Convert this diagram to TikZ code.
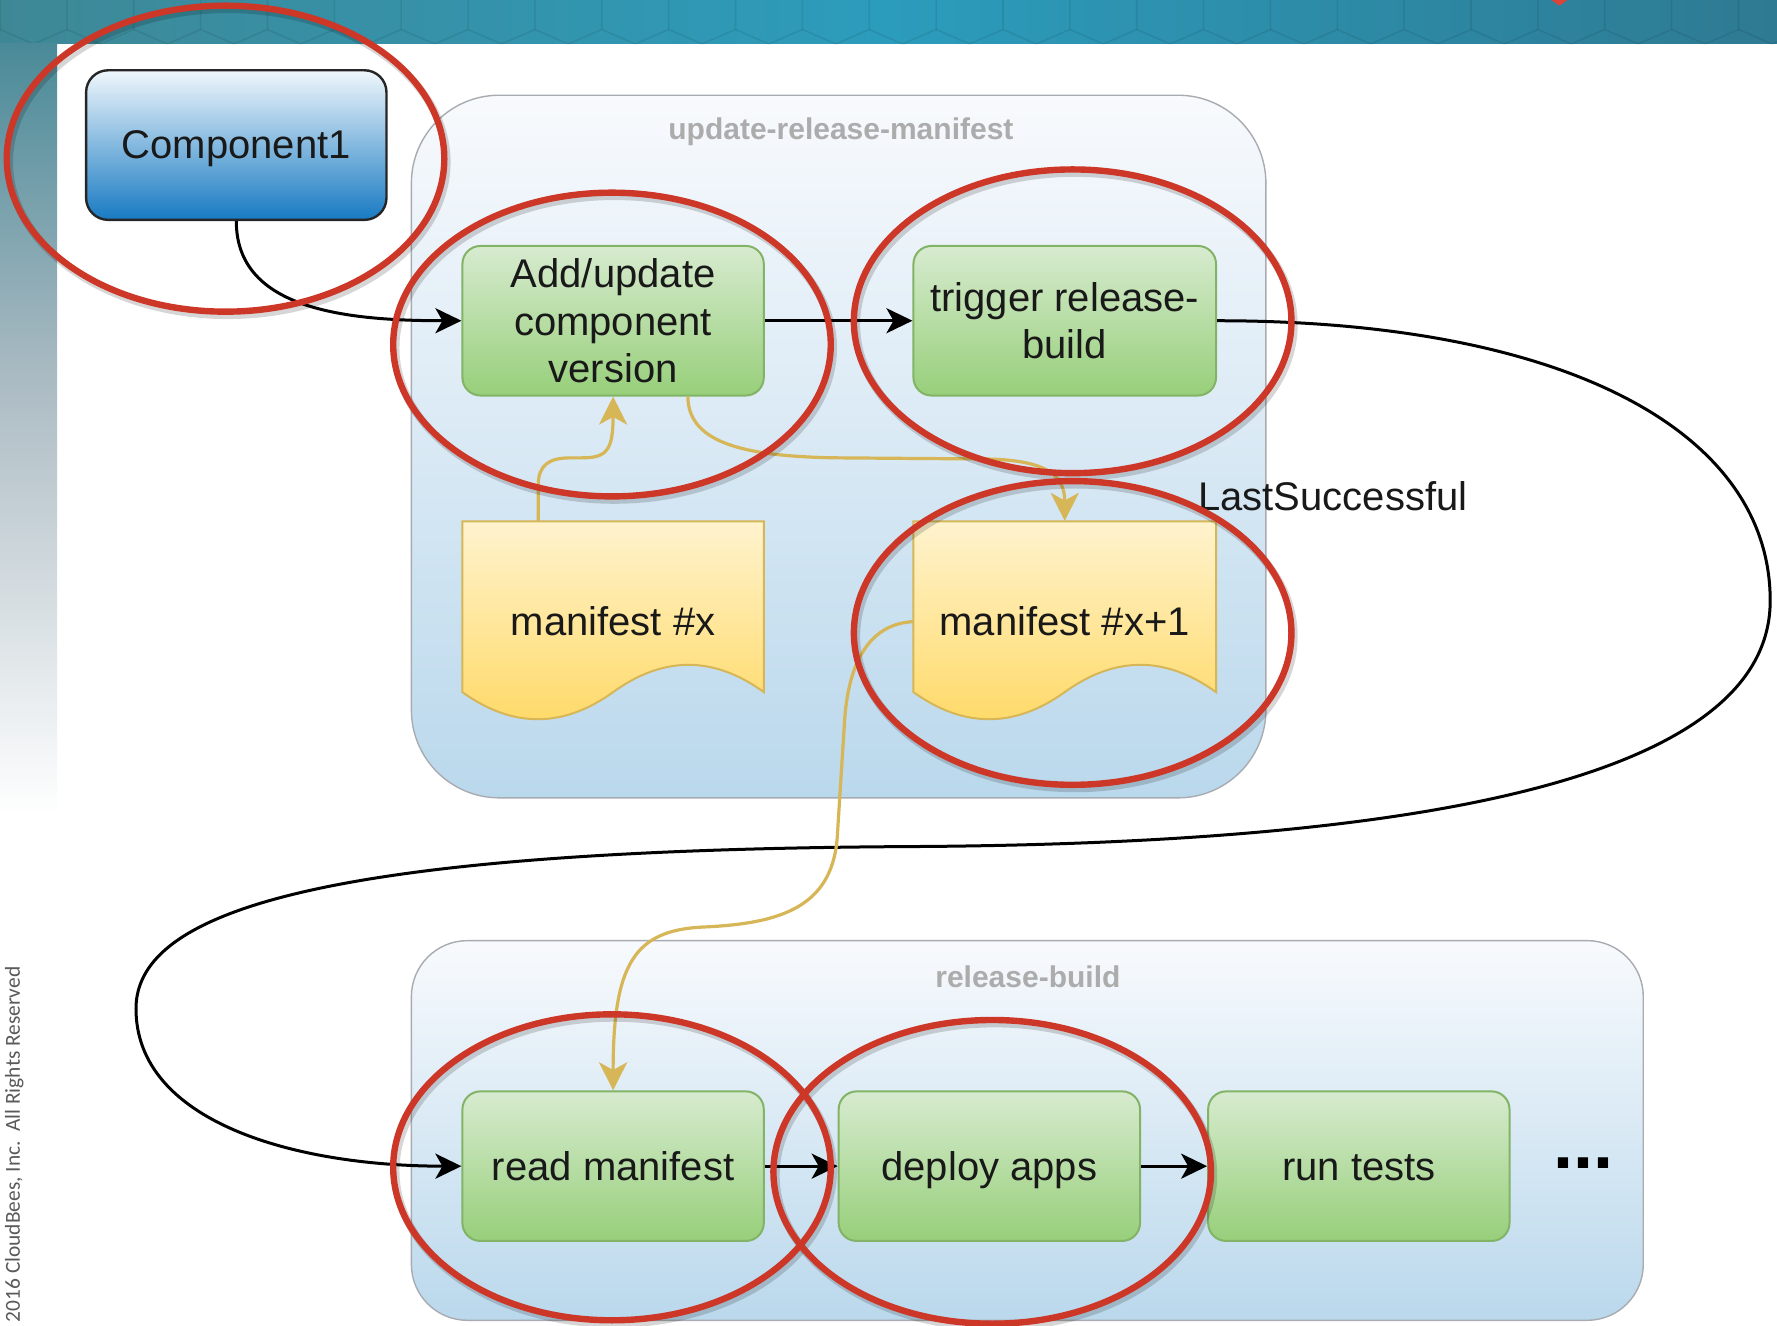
\documentclass[tikz,border=0pt]{standalone}
\usepackage{fontspec}
\setmainfont{Liberation Sans}
\newfontfamily\cbfont{Carlito}
\usetikzlibrary{arrows.meta,calc}
\definecolor{grntop}{RGB}{215,235,207}
\definecolor{grnbot}{RGB}{151,207,122}
\definecolor{grnline}{RGB}{130,179,102}
\definecolor{yeltop}{RGB}{255,243,206}
\definecolor{yelbot}{RGB}{255,217,102}
\definecolor{yelline}{RGB}{214,182,86}
\definecolor{bluetop}{RGB}{240,247,252}
\definecolor{bluebot}{RGB}{24,122,194}
\definecolor{cnttop}{RGB}{248,250,253}
\definecolor{cntbot}{RGB}{186,216,236}
\definecolor{cntline}{RGB}{168,172,178}
\definecolor{ringred}{RGB}{204,55,40}
\definecolor{titlegray}{RGB}{172,172,172}
\definecolor{banL}{RGB}{62,136,150}
\definecolor{banM}{RGB}{44,156,188}
\definecolor{banR}{RGB}{46,122,146}
\definecolor{stripA}{RGB}{74,138,152}
\definecolor{stripB}{RGB}{170,186,194}
\definecolor{copygray}{RGB}{90,90,90}
\definecolor{marker}{RGB}{220,68,58}
\tikzset{
  procbox/.style={draw=grnline, line width=1pt, rounded corners=9pt,
    top color=grntop, bottom color=grnbot, minimum width=150.7pt,
    minimum height=74.8pt, inner sep=0pt, align=center, text=black!90,
    font=\fontsize{20}{23.8}\selectfont},
  oneline/.style={text height=18.1pt, text depth=4.24pt},
  compbox/.style={draw=black!85, line width=1.2pt, rounded corners=11pt,
    top color=bluetop, bottom color=bluebot, minimum width=150.2pt,
    minimum height=74.8pt, inner sep=0pt, align=center, text=black!90,
    font=\fontsize{20}{23.8}\selectfont},
  docbox/.style={draw=yelline, line width=1pt, top color=yeltop, bottom color=yelbot},
  doclabel/.style={minimum width=150.7pt, minimum height=100.3pt, inner sep=0pt,
    text=black!90, font=\fontsize{20}{23.8}\selectfont},
  container/.style={draw=cntline, line width=0.7pt, top color=cnttop, bottom color=cntbot},
  ctitle/.style={text=titlegray, inner sep=0pt, font=\fontsize{15}{18}\selectfont\bfseries},
  flow/.style={draw=black, line width=1.5pt,
    -{Stealth[length=13pt,width=12.5pt,inset=3.5pt]}},
  data/.style={draw=yelline, line width=1.6pt,
    -{Stealth[length=14pt,width=14pt,inset=3.8pt]}},
  ring/.style={draw=ringred, line width=3.2pt},
  ringshadow/.style={draw=black, opacity=0.16, line width=4pt},
}
\begin{document}
\begin{tikzpicture}[x=0.5667pt,y=-0.5667pt]
\useasboundingbox (0,0) rectangle (1568,1170);
\fill[white] (0,0) rectangle (1568,1170);
% banner
\shade[left color=banL, right color=banR, middle color=banM] (0,0) rectangle (1568,38.8);
\foreach \k in {0,...,27}{
  \draw[black, opacity=0.08, line width=0.8pt] (\k*59,0) -- (\k*59,26) -- (\k*59-29.5,38.8);
  \draw[black, opacity=0.08, line width=0.8pt] (\k*59,26) -- (\k*59+29.5,38.8);
}
\fill[marker] (1369,0) -- (1383,0) -- (1376,5) -- cycle;
% left strip
\shade[top color=stripA, bottom color=stripB] (0,38.8) rectangle (50.3,330);
\shade[top color=stripB, bottom color=white] (0,329.5) rectangle (50.3,720);
% copyright
\node[rotate=90, anchor=west, inner sep=0pt, text=copygray,
  font=\cbfont\fontsize{10.7}{12}\selectfont] (copy) at (12.5,1167)
  {2016 CloudBees, Inc.\ \ All Rights Reserved};
% containers
\draw[container, rounded corners=44pt] (363,84) rectangle (1117,704);
\node[ctitle] (t1) at (742,116) {update-release-manifest};
\draw[container, rounded corners=28pt] (363,830) rectangle (1450,1165);
\node[ctitle] (t2) at (907,862) {release-build};
% nodes
\node[compbox, oneline] (comp) at (208.5,128) {Component1};
\node[procbox] (add) at (541,283) {Add/update\\component\\version};
\node[procbox, minimum width=151.3pt] (trig) at (939.5,283) {trigger release-\\build};
\draw[docbox, shift={(408,460)}] (0,0) -- (266,0) -- (266,150.7)
  .. controls (221.7,118.6) and (177.3,118.6) .. (133,150.7)
  .. controls (88.7,182.6) and (44.3,182.6) .. (0,150.7) -- cycle;
\node[doclabel] (mx) at (541,548.5) {manifest \#x};
\draw[docbox, shift={(806,460)}] (0,0) -- (267,0) -- (267,150.7)
  .. controls (222.5,118.6) and (178,118.6) .. (133.5,150.7)
  .. controls (89,182.6) and (44.5,182.6) .. (0,150.7) -- cycle;
\node[doclabel] (mx1) at (939.5,548.5) {manifest \#x+1};
\node[procbox, oneline] (read) at (541,1029) {read manifest};
\node[procbox, oneline] (deploy) at (873,1029) {deploy apps};
\node[procbox, oneline] (run) at (1199,1029) {run tests};
\node[inner sep=0pt, font=\fontsize{36}{40}\selectfont\bfseries] (more) at (1397,1026) {...};
\node[anchor=west, inner sep=0pt, text=black!90, font=\fontsize{20}{23.8}\selectfont]
  (last) at (1057,438) {LastSuccessful};
% black connectors
\draw[flow] (comp.south) .. controls +(0,76) and +(-108,0) .. (add.west);
\draw[flow] (add.east) -- (trig.west);
\draw[flow] (trig.east) .. controls (1380,283) and (1562,380) .. (1562,530)
  .. controls (1562,700) and (1200,745) .. (800,747)
  .. controls (300,750) and (120,800) .. (120,890)
  .. controls (120,990) and (260,1029) .. (read.west);
\draw[flow] (read.east) -- (deploy.west);
\draw[flow] (deploy.east) -- (run.west);
% yellow connectors
\draw[data] ([xshift=-37.4pt]mx.north) -- ++(0,-32)
  .. controls (475,410) and (485,404) .. (503,404) -- (513,404)
  .. controls (535,404) and (541,398) .. (add.south);
\draw[data] ([xshift=37.4pt]add.south) .. controls (607,392) and (660,403) .. (740,404)
  -- (870,405) .. controls (925,406) and (939.5,420) .. (mx1.north);
\draw[data] (mx1.west) .. controls (770,550) and (748,580) .. (745,640)
  -- (739,735) .. controls (736,800) and (690,815) .. (620,818)
  .. controls (560,821) and (541,850) .. (read.north);
% red rings
\foreach \cx/\cy/\ry in {199/140/135, 540/304/134, 946.5/283.5/134, 946.5/558.5/134, 540/1030/135, 875.5/1034/134}{
  \draw[ringshadow] (\cx+2,\cy+3) ellipse [x radius=109.4pt, y radius=\ry*0.5667pt];
}
\foreach \cx/\cy/\ry in {199/140/135, 540/304/134, 946.5/283.5/134, 946.5/558.5/134, 540/1030/135, 875.5/1034/134}{
  \draw[ring] (\cx,\cy) ellipse [x radius=109.4pt, y radius=\ry*0.5667pt];
}
\end{tikzpicture}
\end{document}
